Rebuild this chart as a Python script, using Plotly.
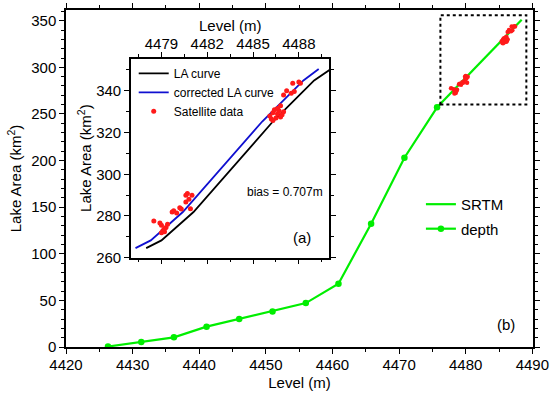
import plotly.graph_objects as go

# ---------------- data ----------------
depth_level = [4426.3, 4431.3, 4436.2, 4441.1, 4446.0, 4451.0, 4456.0, 4460.9, 4465.8, 4470.8, 4475.7]
depth_area = [0.5, 5.4, 10.4, 21.8, 30.0, 38.2, 47.1, 67.9, 132.2, 203.0, 257.1]

srtm_level = [4475.7, 4480.0, 4485.6, 4488.4]
srtm_area = [257.1, 289.0, 330.5, 351.0]

la_level = [4478.0, 4479.0, 4481.1, 4484.2, 4486.3, 4489.0, 4490.1]
la_area = [264.6, 268.3, 281.9, 307.5, 325.3, 345.0, 350.5]

corr_level = [4477.3, 4478.3, 4480.4, 4483.5, 4485.6, 4488.3, 4489.3]
corr_area = [264.6, 268.3, 281.9, 307.5, 325.3, 345.0, 350.5]

# satellite data (raw levels, shown in inset (a))
sat_level = [4478.5, 4478.9, 4479.0, 4479.1, 4479.3, 4479.2, 4479.4, 4479.0, 4479.2,
             4479.7, 4479.8, 4480.0, 4480.2, 4480.3, 4480.6, 4480.7, 4481.0, 4480.6, 4480.8, 4480.9,
             4486.1, 4486.3, 4486.5, 4486.7, 4486.9, 4486.2, 4486.4, 4486.6, 4486.8, 4487.0, 4486.3, 4486.6,
             4486.8, 4487.0, 4487.2, 4487.5, 4487.6, 4488.0, 4488.1, 4487.7]
sat_area = [277.6, 276.6, 275.5, 273.0, 274.5, 272.5, 276.0, 272.0, 274.0,
            281.9, 282.5, 281.4, 284.0, 283.4, 289.9, 290.8, 289.9, 286.7, 288.0, 283.5,
            328.0, 329.5, 327.0, 330.5, 328.5, 326.5, 331.0, 329.0, 327.5, 330.0, 325.8, 331.5,
            332.8, 338.0, 340.0, 338.8, 343.7, 344.2, 343.7, 339.7]
# satellite data after bias correction (levels shown in main plot (b))
sat_level_corr = [4477.8, 4478.2, 4478.3, 4478.4, 4478.6, 4478.5, 4478.7, 4478.3, 4478.5,
                  4479.0, 4479.1, 4479.3, 4479.5, 4479.6, 4479.9, 4480.0, 4480.3, 4479.9, 4480.1, 4480.2,
                  4485.4, 4485.6, 4485.8, 4486.0, 4486.2, 4485.5, 4485.7, 4485.9, 4486.1, 4486.3, 4485.6, 4485.9,
                  4486.1, 4486.3, 4486.5, 4486.8, 4486.9, 4487.3, 4487.4, 4487.0]

bias_text = "bias = 0.707m"
zoom_box_level = [4476.2, 4489.1]
zoom_box_area = [260, 356]

main_x_range = [4420, 4490.1]
main_y_range = [0, 361.5]
inset_x_range = [4477, 4490]
inset_y_range = [260, 355.5]

# ---------------- figure ----------------
GREEN = "#00ee00"
FONT = "Liberation Sans, Arial, sans-serif"

fig = go.Figure()

fig.add_trace(go.Scatter(x=srtm_level, y=srtm_area, mode="lines", name="SRTM",
                         line=dict(color=GREEN, width=2.2), legend="legend",
                         legendgroup="a"))
fig.add_trace(go.Scatter(x=depth_level, y=depth_area, mode="lines+markers", name="depth",
                         line=dict(color=GREEN, width=2.2),
                         marker=dict(color=GREEN, size=6.5, symbol="circle"),
                         legend="legend", legendgroup="b"))
fig.add_trace(go.Scatter(x=sat_level_corr, y=sat_area, mode="markers", showlegend=False,
                         marker=dict(color="#ff1a1a", size=4.5)))

# inset
fig.add_trace(go.Scatter(x=la_level, y=la_area, mode="lines", name="LA curve",
                         line=dict(color="black", width=1.8), xaxis="x2", yaxis="y2",
                         legend="legend2"))
fig.add_trace(go.Scatter(x=corr_level, y=corr_area, mode="lines", name="corrected LA curve",
                         line=dict(color="#1010d0", width=1.8), xaxis="x2", yaxis="y2",
                         legend="legend2"))
fig.add_trace(go.Scatter(x=sat_level, y=sat_area, mode="markers", name="Satellite data",
                         marker=dict(color="#ff1a1a", size=5), xaxis="x2", yaxis="y2",
                         legend="legend2"))

fig.add_shape(type="rect", xref="x", yref="y",
              x0=zoom_box_level[0], x1=zoom_box_level[1],
              y0=zoom_box_area[0], y1=zoom_box_area[1],
              line=dict(color="black", width=2, dash="dot"))

axis_common = dict(showline=True, linecolor="black", linewidth=1.5, mirror="ticks",
                   ticks="outside", ticklen=5, tickwidth=1.2, tickcolor="black",
                   showgrid=False, zeroline=False, automargin=False,
                   tickfont=dict(family=FONT, size=15, color="black"))

fig.update_layout(
    width=550, height=397,
    margin=dict(l=66, r=17, t=10, b=50),
    paper_bgcolor="white", plot_bgcolor="white",
    font=dict(family=FONT, size=15, color="black"),
    xaxis=dict(range=main_x_range, dtick=10, tick0=4420, domain=[0, 1],
               minor=dict(dtick=5, ticks="outside", ticklen=3, tickcolor="black"),
               title=dict(text="Level (m)", font=dict(size=15), standoff=6),
               ticklabelstandoff=-2,
               **axis_common),
    yaxis=dict(range=main_y_range, dtick=50, tick0=0,
               minor=dict(dtick=10, ticks="outside", ticklen=3, tickcolor="black"),
               title=dict(text="Lake Area (km<sup>2</sup>)", font=dict(size=15), standoff=6),
               **axis_common),
    xaxis2=dict(range=inset_x_range, dtick=3, tick0=4479, side="top",
                domain=[0.139, 0.564], anchor="y2",
                minor=dict(dtick=1.5, ticks="outside", ticklen=3, tickcolor="black"),
                ticklabelstandoff=-3,
                **axis_common),
    yaxis2=dict(range=inset_y_range, dtick=20, tick0=260,
                domain=[0.265, 0.856], anchor="x2",
                minor=dict(dtick=10, ticks="outside", ticklen=3, tickcolor="black"),
                title=dict(text="Lake Area (km<sup>2</sup>)", font=dict(size=15), standoff=1),
                **axis_common),
    legend=dict(x=0.76, y=0.472, xanchor="left", yanchor="top",
                bgcolor="rgba(0,0,0,0)", font=dict(size=15),
                traceorder="grouped", tracegroupgap=2),
    legend2=dict(x=0.145, y=0.855, xanchor="left", yanchor="top",
                 bgcolor="rgba(0,0,0,0)", font=dict(size=12),
                 tracegroupgap=0),
    annotations=[
        dict(text="Level (m)", x=0.3515, y=0.955, xref="paper", yref="paper",
             xanchor="center", yanchor="middle", showarrow=False, font=dict(size=15)),
        dict(text=bias_text, x=4487.07, y=291.5, xref="x2", yref="y2",
             showarrow=False, font=dict(size=12)),
        dict(text="(a)", x=4488.2, y=269.9, xref="x2", yref="y2",
             showarrow=False, font=dict(size=15)),
        dict(text="(b)", x=4486.0, y=24.3, xref="x", yref="y",
             showarrow=False, font=dict(size=15)),
    ],
)

fig.write_html("out.html", config={"displayModeBar": False},
               post_script="document.body.style.margin='0px';document.body.style.overflow='hidden';")
